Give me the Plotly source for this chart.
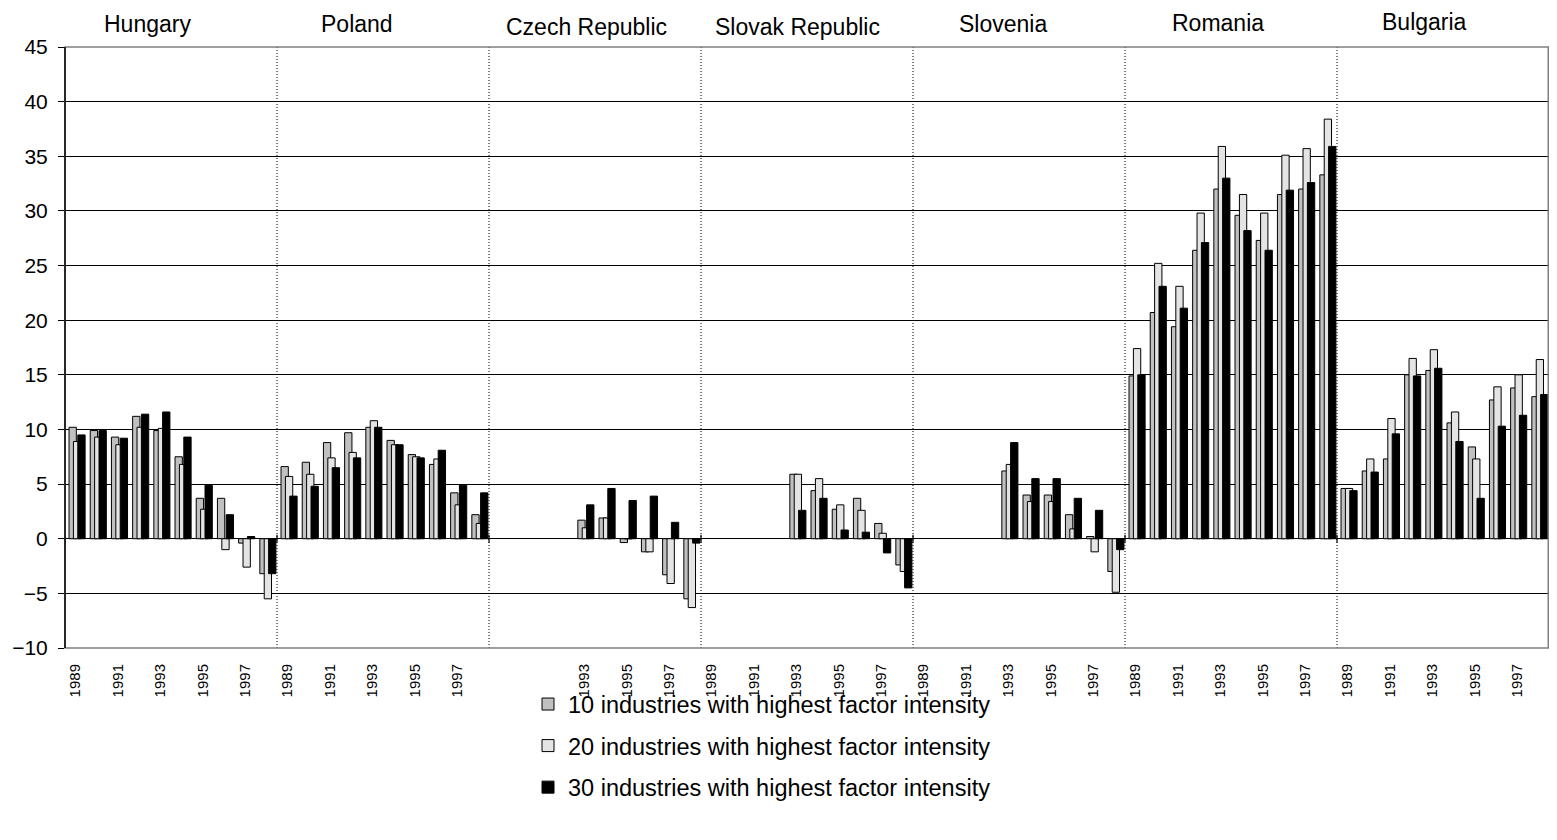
import plotly.graph_objects as go

countries = ["Hungary", "Poland", "Czech Republic", "Slovak Republic", "Slovenia", "Romania", "Bulgaria"]
years = [1989, 1990, 1991, 1992, 1993, 1994, 1995, 1996, 1997, 1998]

# tick labels shown under each country block (Czech block shows no 1989/1991)
tick_years = {
    "Hungary": [1989, 1991, 1993, 1995, 1997],
    "Poland": [1989, 1991, 1993, 1995, 1997],
    "Czech Republic": [1993, 1995, 1997],
    "Slovak Republic": [1989, 1991, 1993, 1995, 1997],
    "Slovenia": [1989, 1991, 1993, 1995, 1997],
    "Romania": [1989, 1991, 1993, 1995, 1997],
    "Bulgaria": [1989, 1991, 1993, 1995, 1997],
}

N = None
top10 = {
    "Hungary": [10.2, 9.9, 9.3, 11.2, 9.9, 7.5, 3.7, 3.7, -0.4, -3.2],
    "Poland": [6.6, 7.0, 8.8, 9.7, 10.2, 9.0, 7.7, 6.8, 4.2, 2.2],
    "Czech Republic": [N, N, N, N, 1.7, 1.9, -0.35, -1.2, -3.3, -5.5],
    "Slovak Republic": [N, N, N, N, 5.9, 4.4, 2.7, 3.7, 1.4, -2.4],
    "Slovenia": [N, N, N, N, 6.2, 4.0, 4.0, 2.2, 0.2, -3.0],
    "Romania": [14.9, 20.7, 19.4, 26.4, 32.0, 29.6, 27.3, 31.5, 32.0, 33.3],
    "Bulgaria": [4.6, 6.2, 7.3, 15.0, 15.4, 10.6, 8.4, 12.7, 13.8, 13.0],
}
top20 = {
    "Hungary": [8.9, 9.3, 8.6, 10.2, 10.1, 6.8, 2.7, -1.0, -2.6, -5.5],
    "Poland": [5.7, 5.9, 7.4, 7.9, 10.8, 8.6, 7.5, 7.3, 3.1, 1.4],
    "Czech Republic": [N, N, N, N, 1.0, 1.9, 0.0, -1.2, -4.1, -6.3],
    "Slovak Republic": [N, N, N, N, 5.9, 5.5, 3.1, 2.6, 0.5, -3.0],
    "Slovenia": [N, N, N, N, 6.8, 3.4, 3.4, 0.9, -1.2, -4.9],
    "Romania": [17.4, 25.2, 23.1, 29.8, 35.9, 31.5, 29.8, 35.1, 35.7, 38.4],
    "Bulgaria": [4.6, 7.3, 11.0, 16.5, 17.3, 11.6, 7.3, 13.9, 15.0, 16.4],
}
top30 = {
    "Hungary": [9.5, 9.9, 9.2, 11.4, 11.6, 9.3, 4.9, 2.2, 0.2, -3.2],
    "Poland": [3.9, 4.8, 6.5, 7.4, 10.2, 8.6, 7.4, 8.1, 4.9, 4.2],
    "Czech Republic": [N, N, N, N, 3.1, 4.6, 3.5, 3.9, 1.5, -0.4],
    "Slovak Republic": [N, N, N, N, 2.6, 3.7, 0.8, 0.6, -1.3, -4.5],
    "Slovenia": [N, N, N, N, 8.8, 5.5, 5.5, 3.7, 2.6, -1.0],
    "Romania": [15.0, 23.1, 21.1, 27.1, 33.0, 28.2, 26.4, 31.9, 32.6, 35.9],
    "Bulgaria": [4.4, 6.1, 9.6, 14.9, 15.6, 8.9, 3.7, 10.3, 11.3, 13.2],
}

series_names = [
    "10 industries with highest factor intensity",
    "20 industries with highest factor intensity",
    "30 industries with highest factor intensity",
]
series_data = [top10, top20, top30]
series_colors = ["#c0c0c0", "#e4e4e4", "#000000"]
series_offsets = [-0.31, -0.103, 0.104]
bar_width = 0.345

# label placement (data-x of country title, pixel-y of title in the window)
label_x = [3.39, 13.29, 24.08, 34.03, 43.75, 53.9, 63.64]
label_ypx = [24, 24, 27, 27, 23.5, 22.5, 22]

FONT = "Liberation Sans, Arial, sans-serif"
nY = len(years)
xs = list(range(len(countries) * nY))

# page body has an 8px margin: size the figure so it fits the 1557x840 window
W, H = 1541, 824
ML, MT, MB, MR = 57, 39, 184, 0
PH = H - MT - MB

fig = go.Figure()
for name, data, col, off in zip(series_names, series_data, series_colors, series_offsets):
    vals = []
    for c in countries:
        vals.extend(data[c])
    fig.add_trace(go.Bar(
        x=xs, y=vals, name=name, offset=off, width=bar_width,
        marker=dict(color=col, line=dict(color="#000000", width=1)),
        legendgroup=name,
    ))

tickvals, ticktext = [], []
for ci, c in enumerate(countries):
    for yv in tick_years[c]:
        tickvals.append(ci * nY + years.index(yv))
        ticktext.append(str(yv))

shapes = []
# dotted separators between countries
for ci in range(1, len(countries)):
    xb = ci * nY - 0.5
    shapes.append(dict(type="line", xref="x", yref="paper", x0=xb, x1=xb, y0=0, y1=1,
                       line=dict(color="#000000", width=1, dash="1px,2px"), layer="above"))
# small ticks on zero line at country boundaries
for ci in range(0, len(countries) + 1):
    xb = ci * nY - 0.5
    shapes.append(dict(type="line", xref="x", yref="y", ysizemode="pixel", yanchor=0,
                       x0=xb, x1=xb, y0=-4, y1=4,
                       line=dict(color="#000000", width=1.2), layer="above"))
# plot-area border (grey)
shapes.append(dict(type="rect", xref="paper", yref="paper", x0=0, x1=0.9995, y0=0, y1=1,
                   line=dict(color="#808080", width=1.5), layer="above"))
# black left axis line on top of border
shapes.append(dict(type="line", xref="paper", yref="paper", x0=0, x1=0, y0=0, y1=1,
                   line=dict(color="#000000", width=1.5), layer="above"))

annotations = []
for c, lx, lyp in zip(countries, label_x, label_ypx):
    annotations.append(dict(text=c, x=lx, xref="x", y=1 + (47 - lyp) / PH, yref="paper",
                            showarrow=False, xanchor="center", yanchor="middle",
                            font=dict(family=FONT, size=23, color="#000000")))

fig.update_layout(
    width=W, height=H,
    margin=dict(l=ML, r=MR, t=MT, b=MB, pad=0),
    paper_bgcolor="white", plot_bgcolor="white",
    barmode="overlay",
    showlegend=True,
    legend=dict(x=0.312, y=-0.057, xanchor="left", yanchor="top",
                font=dict(family=FONT, size=23.5, color="#000000"),
                tracegroupgap=8, bgcolor="rgba(0,0,0,0)"),
    shapes=shapes,
    annotations=annotations,
    font=dict(family=FONT, color="#000000"),
)
fig.update_xaxes(range=[-0.5, len(xs) - 0.5], tickmode="array", tickvals=tickvals, ticktext=ticktext,
                 tickangle=-90, tickfont=dict(family=FONT, size=15, color="#000000"),
                 showgrid=False, zeroline=False, showline=False, ticks="", ticklabelstandoff=12)
fig.update_yaxes(range=[-10, 45], tickmode="linear", tick0=-10, dtick=5,
                 tickfont=dict(family=FONT, size=21, color="#000000"),
                 showgrid=True, gridcolor="#000000", gridwidth=1,
                 zeroline=True, zerolinecolor="#000000", zerolinewidth=1.2,
                 showline=False, ticks="outside", ticklen=6, tickcolor="#000000", tickwidth=1,
                 ticklabelstandoff=6)

fig.write_html("out.html")
